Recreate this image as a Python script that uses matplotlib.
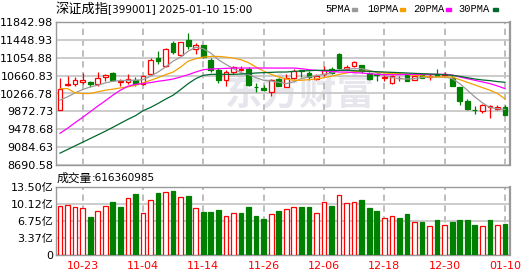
import matplotlib
matplotlib.use("Agg")
import matplotlib.pyplot as plt
from matplotlib.patches import Rectangle
import numpy as np

dates = [
    "10-18", "10-21", "10-22", "10-23", "10-24", "10-25", "10-28", "10-29", "10-30", "10-31",
    "11-01", "11-04", "11-05", "11-06", "11-07", "11-08", "11-11", "11-12", "11-13", "11-14",
    "11-15", "11-18", "11-19", "11-20", "11-21", "11-22", "11-25", "11-26", "11-27", "11-28",
    "11-29", "12-02", "12-03", "12-04", "12-05", "12-06", "12-09", "12-10", "12-11", "12-12",
    "12-13", "12-16", "12-17", "12-18", "12-19", "12-20", "12-23", "12-24", "12-25", "12-26",
    "12-27", "12-30", "12-31", "01-02", "01-03", "01-06", "01-07", "01-08", "01-09", "01-10",
]
opens = [
    9894, 10463, 10485, 10529, 10514, 10485, 10631, 10719, 10529, 10514,
    10558, 10485, 10689, 11040, 10872, 11390, 11120, 11449, 11244, 11339,
    10996, 10777, 10573, 10733, 10792, 10806, 10419, 10397, 10310, 10587,
    10419, 10616, 10777, 10719, 10587, 10689, 10806, 11135, 10799, 10872,
    10886, 10719, 10697, 10609, 10500, 10598, 10682, 10573, 10689, 10638,
    10704, 10675, 10616, 10405, 10105, 9908, 9872, 9967, 9916, 9974,
]
highs = [
    10609, 10646, 10631, 10726, 10543, 10733, 10689, 10741, 10595, 10704,
    10631, 10667, 11040, 11200, 11259, 11434, 11412, 11595, 11376, 11346,
    11054, 10828, 10777, 10865, 10872, 10843, 10500, 10448, 10587, 10616,
    10704, 10814, 10784, 10763, 10689, 10865, 10850, 11157, 10894, 10981,
    10901, 10741, 10719, 10667, 10682, 10645, 10704, 10682, 10719, 10689,
    10799, 10741, 10667, 10419, 10149, 9989, 10025, 10018, 10018, 10010,
]
lows = [
    9894, 10426, 10434, 10485, 10419, 10441, 10543, 10536, 10441, 10470,
    10441, 10463, 10675, 10923, 10857, 11142, 11098, 11244, 11135, 11054,
    10741, 10492, 10441, 10704, 10755, 10441, 10303, 10324, 10222, 10426,
    10412, 10594, 10631, 10573, 10558, 10660, 10704, 10814, 10777, 10850,
    10719, 10558, 10543, 10543, 10485, 10543, 10536, 10558, 10602, 10573,
    10645, 10645, 10426, 10010, 9901, 9821, 9843, 9733, 9901, 9792,
]
closes = [
    10361, 10470, 10558, 10573, 10478, 10616, 10682, 10573, 10543, 10587,
    10478, 10653, 11011, 10974, 11252, 11171, 11398, 11310, 11346, 11069,
    10777, 10558, 10741, 10843, 10806, 10456, 10405, 10346, 10573, 10441,
    10616, 10770, 10755, 10631, 10645, 10792, 10719, 10828, 10857, 10967,
    10762, 10580, 10675, 10624, 10645, 10602, 10543, 10660, 10616, 10653,
    10660, 10697, 10434, 10105, 9916, 9894, 10003, 9981, 9974, 9799,
]
ma5 = [
    10120, 10193, 10281, 10354, 10412, 10448, 10500, 10536, 10551, 10558,
    10558, 10573, 10646, 10740, 10850, 10981, 11069, 11200, 11288, 11252,
    11157, 11011, 10908, 10814, 10726, 10682, 10616, 10558, 10543, 10514,
    10485, 10522, 10594, 10631, 10660, 10689, 10719, 10777, 10806, 10814,
    10814, 10777, 10726, 10667, 10616, 10594, 10587, 10594, 10616, 10631,
    10631, 10631, 10594, 10485, 10339, 10193, 10062, 9960, 9930, 9916,
]
ma10 = [
    10375, 10375, 10281, 10266, 10266, 10303, 10339, 10361, 10390, 10412,
    10448, 10500, 10558, 10616, 10682, 10740, 10850, 10981, 11033, 11069,
    11084, 11084, 11069, 11047, 11011, 10945, 10850, 10762, 10689, 10631,
    10587, 10558, 10558, 10573, 10587, 10616, 10646, 10689, 10719, 10748,
    10762, 10762, 10740, 10719, 10704, 10704, 10689, 10667, 10653, 10631,
    10631, 10631, 10631, 10573, 10514, 10456, 10397, 10339, 10266, 10149,
]
ma20 = [
    9390, 9500, 9624, 9740, 9864, 9989, 10105, 10229, 10339, 10427,
    10470, 10485, 10507, 10536, 10558, 10587, 10631, 10682, 10740, 10792,
    10806, 10814, 10821, 10828, 10828, 10828, 10828, 10828, 10828, 10828,
    10828, 10828, 10814, 10792, 10777, 10762, 10755, 10740, 10740, 10726,
    10719, 10704, 10689, 10682, 10682, 10682, 10689, 10689, 10689, 10689,
    10689, 10689, 10675, 10631, 10594, 10558, 10522, 10485, 10434, 10375,
]
ma30 = [
    8952, 9032, 9113, 9193, 9273, 9354, 9434, 9521, 9609, 9697,
    9777, 9886, 9959, 10047, 10142, 10229, 10354, 10485, 10594, 10667,
    10689, 10689, 10689, 10689, 10697, 10704, 10719, 10726, 10733, 10740,
    10740, 10755, 10762, 10770, 10777, 10777, 10777, 10777, 10777, 10770,
    10762, 10755, 10748, 10740, 10733, 10726, 10719, 10711, 10704, 10697,
    10689, 10682, 10667, 10646, 10616, 10587, 10565, 10551, 10529, 10514,
]
# volume in 亿 (1e8 shares)
volumes = [
    9.60, 9.79, 9.40, 9.20, 7.48, 8.60, 9.60, 10.46, 9.46, 11.18,
    12.04, 8.21, 10.79, 12.24, 12.38, 12.64, 11.38, 11.65, 9.20, 8.47,
    8.47, 8.87, 7.61, 8.21, 8.21, 9.46, 7.68, 7.08, 8.07, 8.67,
    9.00, 9.40, 9.46, 9.46, 8.40, 10.39, 9.66, 11.78, 10.19, 10.39,
    10.85, 9.27, 8.67, 7.41, 7.61, 7.28, 8.07, 6.62, 6.62, 5.82,
    6.88, 6.02, 6.49, 6.88, 6.88, 5.89, 5.82, 6.88, 6.02, 6.16,
]
volume_up = [
    1, 1, 1, 1, 0, 1, 1, 0, 0, 1,
    0, 1, 1, 0, 1, 0, 1, 0, 1, 0,
    0, 0, 1, 1, 0, 0, 0, 0, 1, 0,
    1, 1, 0, 0, 1, 1, 0, 1, 1, 1,
    0, 0, 0, 1, 1, 0, 0, 1, 0, 1,
    0, 1, 0, 0, 0, 0, 1, 0, 1, 0,
]
date_ticks = ["10-23", "11-04", "11-14", "11-26", "12-06", "12-18", "12-30", "01-10"]
price_ticks = [8690.58, 9084.63, 9478.68, 9872.73, 10266.78, 10660.83, 11054.88, 11448.93, 11842.98]
volume_ticks = [0, 3.37, 6.75, 10.12, 13.50]
volume_tick_labels = ["0", "3.37亿", "6.75亿", "10.12亿", "13.50亿"]
ma_labels = ["5PMA", "10PMA", "20PMA", "30PMA"]

RED = "#ff0000"
GREEN = "#008000"
MA_COLORS = ["#9a9a9a", "#f5a000", "#ff00ff", "#00692f"]
GRID = "#c8c8c8"
VGRID = "#b8b8b8"
FRAME = "#999999"
W, H = 530, 276
TICK_FONT = ["DejaVu Sans", "Noto Sans CJK SC"]


def fx(x):
    return x / W


def fy(y):
    return 1 - y / H


def style_axes(ax, xs, tick_idx, yticks):
    for s in ax.spines.values():
        s.set_color(FRAME)
        s.set_linewidth(1.0)
    ax.spines["right"].set_linewidth(1.6)
    ax.tick_params(length=0, labelsize=8, pad=2)
    ax.set_xlim(-0.53, len(xs) - 0.4)
    ax.set_ylim(yticks[0], yticks[-1])
    # light solid grid at each y tick, dashed verticals at the date ticks
    ax.grid(True, axis="y", color=GRID, lw=1.3, ls="-")
    ax.set_xticks([xs[i] for i in tick_idx])
    ax.grid(True, axis="x", color=VGRID, lw=1.3, ls=(0, (3.5, 2.5)))
    ax.set_axisbelow(True)


def draw_price(ax, xs, tick_idx):
    style_axes(ax, xs, tick_idx, price_ticks)
    ax.text((225 - 56) / 453.5, 0.5, "东方财富", transform=ax.transAxes,
            fontsize=27, fontweight="bold", color="#e6e6ec",
            family=["Noto Sans CJK SC"], va="center", ha="left", zorder=0)

    o = np.array(opens)
    c = np.array(closes)
    up = c >= o
    colors = np.where(up, RED, GREEN)
    ax.vlines(xs, lows, highs, colors=colors, lw=0.9, zorder=2)
    bottom = np.minimum(o, c)
    height = np.maximum(np.abs(c - o), 6)
    ax.bar(xs, height, bottom=bottom, width=0.62,
           color=np.where(up, "white", GREEN), edgecolor=colors, lw=0.9, zorder=3)

    for vals, col in zip([ma5, ma10, ma20, ma30], MA_COLORS):
        ax.plot(xs, vals, color=col, lw=0.9, zorder=4)

    ax.set_yticks(price_ticks)
    ax.set_yticklabels([f"{t:.2f}" for t in price_ticks])
    ax.tick_params(axis="x", labelbottom=False)


def draw_volume(ax, xs, tick_idx):
    style_axes(ax, xs, tick_idx, volume_ticks)
    up = np.array(volume_up) == 1
    ax.bar(xs, volumes, width=0.62, color=np.where(up, "white", GREEN),
           edgecolor=np.where(up, RED, GREEN), lw=0.9, zorder=3)
    ax.set_yticks(volume_ticks)
    ax.set_yticklabels(volume_tick_labels, family=TICK_FONT)
    ax.set_xticklabels(date_ticks, color=RED)
    ax.tick_params(axis="x", pad=4.5)


def main():
    xs = np.arange(len(dates))
    tick_idx = [dates.index(d) for d in date_ticks]

    fig = plt.figure(figsize=(W / 100, H / 100), dpi=100)
    ax = fig.add_axes([fx(56), fy(165), fx(453.5), 143 / H])
    vax = fig.add_axes([fx(56), fy(255), fx(453.5), 68.3 / H])
    draw_price(ax, xs, tick_idx)
    draw_volume(vax, xs, tick_idx)

    # header
    fig.text(fx(55), fy(9.5), "深证成指", fontsize=9.5, family=["Noto Sans CJK SC"], va="center")
    fig.text(fx(108), fy(9.5), "[399001] 2025-01-10 15:00", fontsize=7.5, va="center")
    fig.text(fx(57), fy(178), "成交量", fontsize=8.5, family=["Noto Sans CJK SC"], va="center")
    fig.text(fx(92), fy(178), ":616360985", fontsize=7.5, va="center")

    # MA legend
    for label, col, tx, dx in zip(ma_labels, MA_COLORS, [325, 367, 413, 458], [352, 400, 446, 493]):
        fig.text(fx(tx), fy(9.5), label, fontsize=7.5, family="Liberation Mono", va="center")
        fig.patches.append(Rectangle((fx(dx), fy(10.5)), fx(4.5), 2.2 / H, color=col,
                                     transform=fig.transFigure, figure=fig))

    fig.savefig("out.png", dpi=100)


if __name__ == "__main__":
    main()
